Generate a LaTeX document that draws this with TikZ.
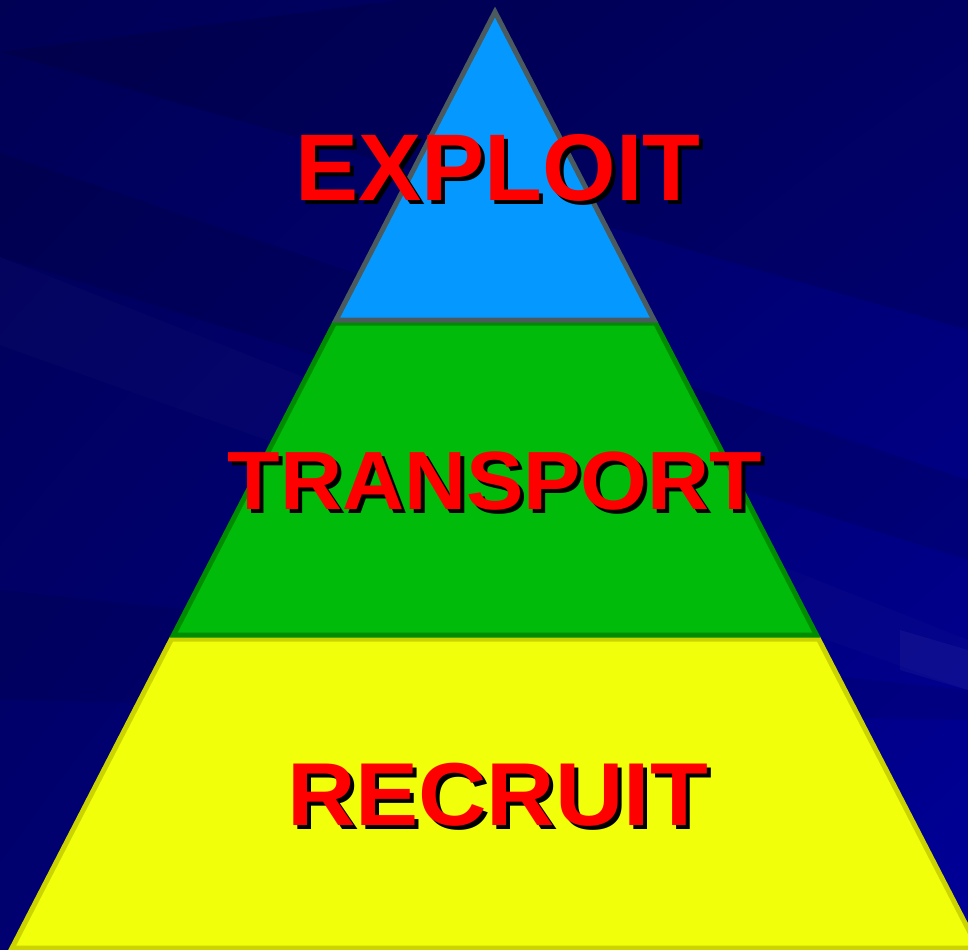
\documentclass[tikz,border=0pt]{standalone}
\usepackage{fontspec}
\setmainfont{Liberation Sans}
\usetikzlibrary{shadings}
\definecolor{navy}{HTML}{000070}
\definecolor{navydark}{HTML}{000055}
\definecolor{navylight}{HTML}{000098}
\definecolor{topfill}{HTML}{0599FF}
\definecolor{topline}{HTML}{4A5A5E}
\definecolor{midfill}{HTML}{00BB0A}
\definecolor{midline}{HTML}{008C00}
\definecolor{lowfill}{HTML}{F2FF0A}
\definecolor{lowline}{HTML}{CCD400}
\begin{document}
\begin{tikzpicture}[x=0.75pt, y=-0.75pt]
    % Define styles
    \tikzstyle{tier} = [line width=3.75pt, line join=miter]
    \tikzstyle{word} = [text=red, anchor=base, inner sep=0pt, font=\bfseries]
    \tikzstyle{dropword} = [word, text=black]

    % Background
    \useasboundingbox (0,0) rectangle (968,950);
    \clip (0,0) rectangle (968,950);
    \shade[upper left=navydark, upper right=navy, lower left=navy, lower right=navylight] (0,0) rectangle (968,950);
    \fill[black, opacity=0.12] (0,52) -- (400,0) -- (968,0) -- (968,330) -- cycle;
    \fill[black, opacity=0.10] (0,153) -- (0,257) -- (968,560) -- (968,480) -- cycle;
    \fill[white, opacity=0.015] (0,257) -- (0,345) -- (968,690) -- (968,640) -- cycle;
    \fill[black, opacity=0.08] (0,590) -- (0,700) -- (968,720) -- (968,690) -- cycle;
    \fill[white, opacity=0.04] (900,630) -- (968,650) -- (968,690) -- (900,670) -- cycle;

    % Tiers
    \filldraw[tier, fill=lowfill, draw=lowline] (171.5,639) -- (818.5,639) -- (978,948) -- (12,948) -- cycle;
    \filldraw[tier, fill=midfill, draw=midline] (334.5,323) -- (655.5,323) -- (816.5,635) -- (173.5,635) -- cycle;
    \filldraw[tier, fill=topfill, draw=topline] (495,12) -- (654,320) -- (336,320) -- cycle;

    % Labels
    \node[dropword, font=\bfseries\fontsize{71pt}{71pt}\selectfont] (exploit_sh) at (502,204) {EXPLOIT};
    \node[word, font=\bfseries\fontsize{71pt}{71pt}\selectfont] (exploit) at (498,200) {EXPLOIT};
    \node[dropword, xscale=1.04, font=\bfseries\fontsize{62pt}{62pt}\selectfont] (transport_sh) at (499,513) {TRANSPORT};
    \node[word, xscale=1.04, font=\bfseries\fontsize{62pt}{62pt}\selectfont] (transport) at (495,509) {TRANSPORT};
    \node[dropword, xscale=1.06, font=\bfseries\fontsize{67pt}{67pt}\selectfont] (recruit_sh) at (501.5,829) {RECRUIT};
    \node[word, xscale=1.06, font=\bfseries\fontsize{67pt}{67pt}\selectfont] (recruit) at (497.5,825) {RECRUIT};
\end{tikzpicture}
\end{document}
